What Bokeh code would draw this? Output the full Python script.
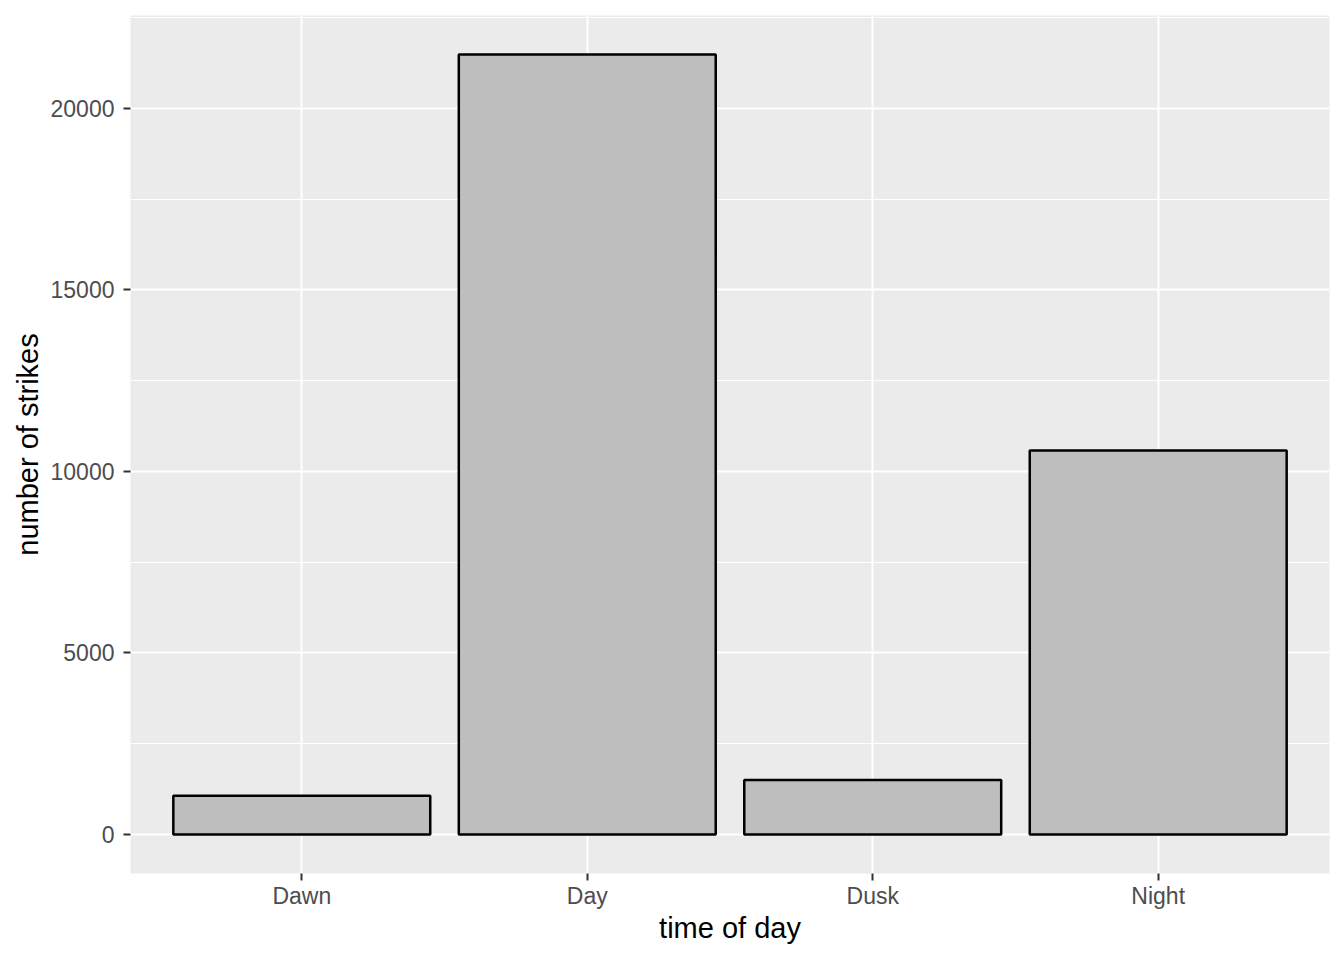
from bokeh.plotting import figure
from bokeh.models import Range1d, FixedTicker, ColumnDataSource
from bokeh.embed import file_html
from bokeh.resources import INLINE

categories = ["Dawn", "Day", "Dusk", "Night"]
strikes = [1067, 21480, 1499, 10578]
y_ticks = [0, 5000, 10000, 15000, 20000]
y_minor = [2500, 7500, 12500, 17500, 22500]

positions = list(range(1, len(categories) + 1))
ymax = max(strikes)
pad = 0.05 * ymax

source = ColumnDataSource(dict(x=positions, top=strikes, cat=categories))

p = figure(width=1344, height=960, output_backend="svg", toolbar_location=None,
           x_range=Range1d(0.4, len(categories) + 0.6),
           y_range=Range1d(-pad, ymax + pad),
           min_border_left=130, min_border_right=15, min_border_top=15,
           min_border_bottom=87)

p.background_fill_color = "#EBEBEB"
p.border_fill_color = "white"
p.outline_line_color = None

p.vbar(x="x", top="top", bottom=0, width=0.9, source=source,
       fill_color="#BEBEBE", line_color="black", line_width=2.5)

FONT = "Liberation Sans"

p.xaxis.ticker = FixedTicker(ticks=positions)
p.xaxis.major_label_overrides = {pos: cat for pos, cat in zip(positions, categories)}
p.yaxis.ticker = FixedTicker(ticks=y_ticks, minor_ticks=y_minor)

for ax in (p.xaxis, p.yaxis):
    ax.axis_line_color = None
    ax.major_tick_line_color = "#333333"
    ax.major_tick_line_width = 2
    ax.major_tick_out = 7
    ax.major_tick_in = 0
    ax.minor_tick_line_color = None
    ax.major_label_text_font = FONT
    ax.major_label_text_font_size = "23px"
    ax.major_label_text_color = "#4D4D4D"
    ax.axis_label_text_font = FONT
    ax.axis_label_text_font_size = "29px"
    ax.axis_label_text_font_style = "normal"
    ax.axis_label_text_color = "black"

p.xaxis.major_label_standoff = 2
p.xaxis.axis_label_standoff = 0
p.yaxis.major_label_standoff = 9
p.yaxis.axis_label_standoff = 4

p.xaxis.axis_label = "time of day"
p.yaxis.axis_label = "number of strikes"

p.xgrid.grid_line_color = "white"
p.xgrid.grid_line_width = 2
p.ygrid.grid_line_color = "white"
p.ygrid.grid_line_width = 2
p.ygrid.minor_grid_line_color = "white"
p.ygrid.minor_grid_line_width = 1

open("out.html", "w").write(file_html(p, INLINE))
